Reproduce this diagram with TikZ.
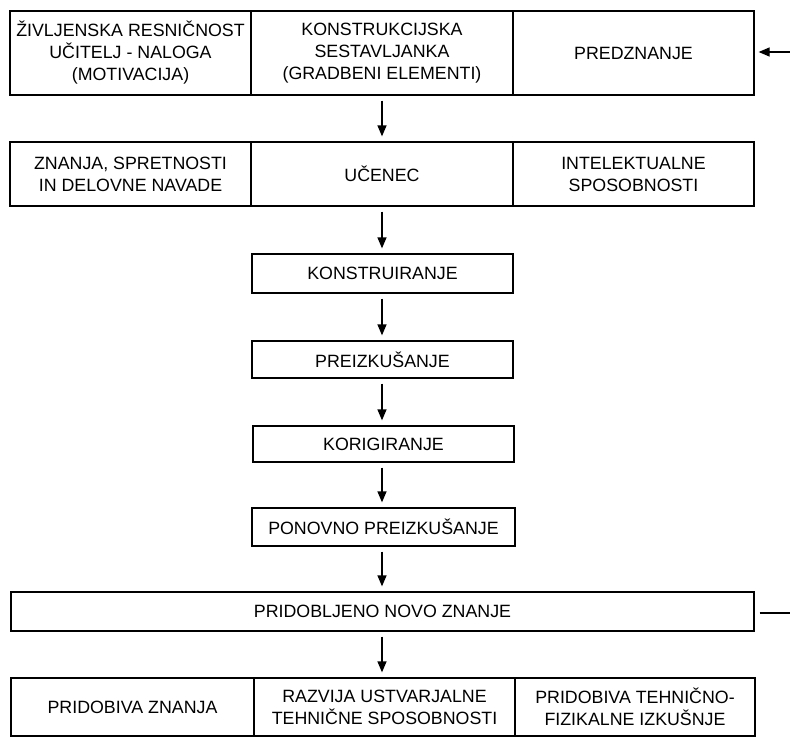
\documentclass[tikz,border=0pt]{standalone}
\usepackage{fontspec}
\setmainfont{Liberation Sans}
\usetikzlibrary{arrows.meta}
\begin{document}
\begin{tikzpicture}[x=1pt,y=-1pt,
  cell/.style={draw=black,line width=1.3pt,inner sep=0pt,align=center,
    font=\fontsize{17.8}{22}\selectfont},
  flow/.style={line width=1.3pt,-{Triangle[length=11pt,width=9pt]},shorten >=5pt,shorten <=5pt}]
\useasboundingbox (0,0) rectangle (790,739);
% row 1
\node[cell,minimum width=241pt,minimum height=84pt] (r1a) at (130.5,53) {ŽIVLJENSKA RESNIČNOST\\UČITELJ - NALOGA\\(MOTIVACIJA)};
\node[cell,minimum width=262pt,minimum height=84pt] (r1b) at (382,53) {KONSTRUKCIJSKA\\SESTAVLJANKA\\(GRADBENI ELEMENTI)};
\node[cell,minimum width=241pt,minimum height=84pt] (r1c) at (633.5,53) {PREDZNANJE};
% row 2
\node[cell,minimum width=241pt,minimum height=64pt] (r2a) at (130.5,174) {ZNANJA, SPRETNOSTI\\IN DELOVNE NAVADE};
\node[cell,minimum width=262pt,minimum height=64pt] (r2b) at (382,174) {UČENEC};
\node[cell,minimum width=241pt,minimum height=64pt] (r2c) at (633.5,174) {INTELEKTUALNE\\SPOSOBNOSTI};
% chain
\node[cell,minimum width=261pt,minimum height=39pt] (k1) at (382.5,273.5) {KONSTRUIRANJE};
\node[cell,minimum width=261pt,minimum height=37pt] (k2) at (382.5,359.5) {PREIZKUŠANJE};
\node[cell,minimum width=261pt,minimum height=36pt] (k3) at (383.5,444) {KORIGIRANJE};
\node[cell,minimum width=263pt,minimum height=38pt] (k4) at (383.5,527) {PONOVNO PREIZKUŠANJE};
\node[cell,minimum width=743pt,minimum height=39pt] (k5) at (382.5,611.5) {PRIDOBLJENO NOVO ZNANJE};
% last row
\node[cell,minimum width=243pt,minimum height=58pt] (r3a) at (132.5,707) {PRIDOBIVA ZNANJA};
\node[cell,minimum width=261pt,minimum height=58pt] (r3b) at (384.5,707) {RAZVIJA USTVARJALNE\\TEHNIČNE SPOSOBNOSTI};
\node[cell,minimum width=240pt,minimum height=58pt] (r3c) at (635,707) {PRIDOBIVA TEHNIČNO-\\FIZIKALNE IZKUŠNJE};
% arrows
\draw[flow] (r1b.south -| 382,0) -- (r2b.north -| 382,0);
\draw[flow] (r2b.south -| 382,0) -- (k1.north -| 382,0);
\draw[flow] (k1.south -| 382,0) -- (k2.north -| 382,0);
\draw[flow] (k2.south -| 382,0) -- (k3.north -| 382,0);
\draw[flow] (k3.south -| 382,0) -- (k4.north -| 382,0);
\draw[flow] (k4.south -| 382,0) -- (k5.north -| 382,0);
\draw[flow] (k5.south -| 382,0) -- (r3b.north -| 382,0);
\coordinate (inR) at (790,52);
\draw[flow,shorten <=0pt,shorten >=4pt] (inR) -- (inR -| r1c.east);
\coordinate (outR) at (790,613);
\draw[line width=1.3pt,shorten <=5pt] (outR -| k5.east) -- (outR);
\end{tikzpicture}
\end{document}
